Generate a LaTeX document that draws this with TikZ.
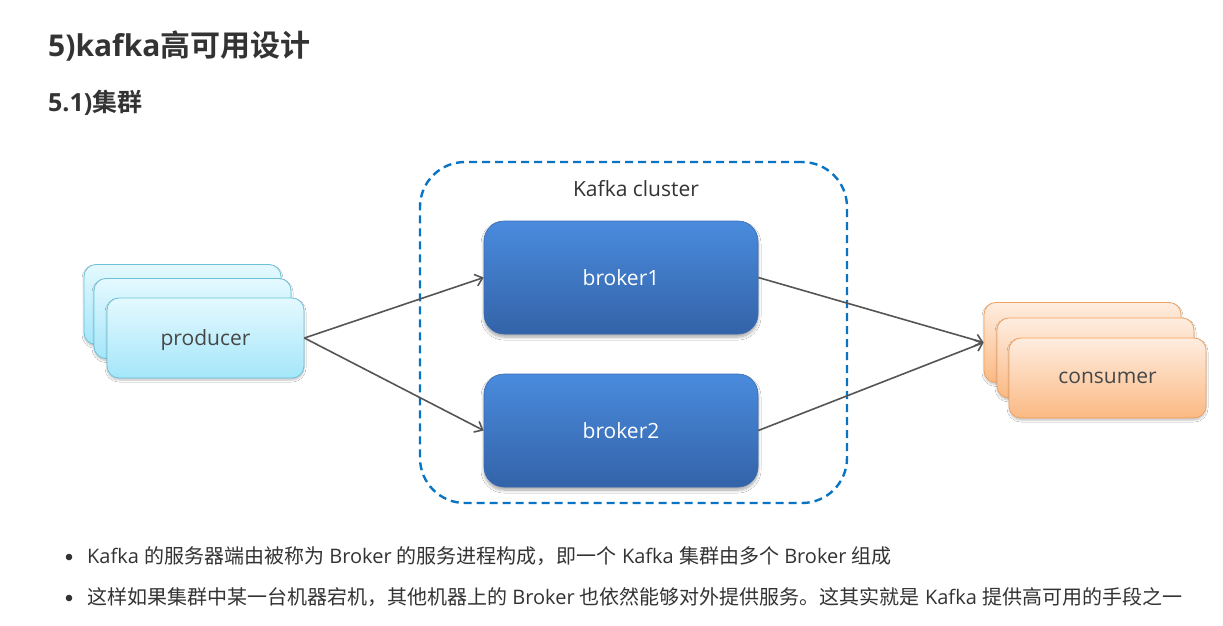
\documentclass[tikz,border=0pt]{standalone}
\usepackage{fontspec}
\setmainfont{Open Sans}
\newfontfamily\cjk{Noto Sans CJK SC}[BoldFont={Noto Sans CJK SC Bold}]
\usetikzlibrary{arrows.meta,shadows.blur}
\newcommand\zh[1]{{\cjk #1}}
\definecolor{txt}{HTML}{333333}
\definecolor{clusterblue}{HTML}{0A74C4}
\definecolor{brtop}{HTML}{4A8BDD}
\definecolor{brbot}{HTML}{3363A8}
\definecolor{brline}{HTML}{3A6CB5}
\definecolor{prtop}{HTML}{E4F9FE}
\definecolor{prbot}{HTML}{A4E6FA}
\definecolor{prline}{HTML}{6CC2D8}
\definecolor{cotop}{HTML}{FEEDE0}
\definecolor{cobot}{HTML}{FBB983}
\definecolor{coline}{HTML}{F2A260}
\definecolor{arrowgray}{HTML}{555555}
\tikzset{
  lbl/.style={font=\fontsize{21}{25}\selectfont},
  softshadow/.style={blur shadow={shadow blur steps=6, shadow xshift=0pt, shadow yshift=-2pt, shadow opacity=25, shadow blur radius=2pt}},
  prodbox/.style={draw=prline, line width=0.8pt, rounded corners=12pt, top color=prtop, bottom color=prbot,
    minimum width=197pt, minimum height=80pt, inner sep=0pt, lbl, text=txt!90, text depth=1pt, softshadow},
  consbox/.style={draw=coline, line width=0.8pt, rounded corners=12pt, top color=cotop, bottom color=cobot,
    minimum width=197pt, minimum height=80pt, inner sep=0pt, lbl, text=txt!90, text depth=1pt, softshadow},
  brokerbox/.style={draw=brline, line width=0.6pt, rounded corners=20pt, top color=brtop, bottom color=brbot,
    minimum width=274pt, minimum height=113pt, inner sep=0pt, lbl, text=white,
    blur shadow={shadow blur steps=8, shadow xshift=0pt, shadow yshift=-3pt, shadow opacity=35, shadow blur radius=3pt}},
  clusterbox/.style={draw=clusterblue, line width=2.4pt, dash pattern=on 8pt off 5pt, rounded corners=45pt,
    minimum width=427pt, minimum height=341pt, inner sep=0pt},
  arr/.style={draw=arrowgray, line width=1.6pt, -{Straight Barb[length=7pt,width=12pt]}},
  bodytext/.style={anchor=base west, inner sep=0pt, text=txt, font=\fontsize{20}{24}\selectfont},
}
\begin{document}
\begin{tikzpicture}[x=1pt,y=-1pt]
\useasboundingbox[fill=white] (0,0) rectangle (1223,625);

% headings
\node[anchor=base west, inner sep=0pt, text=txt, font=\fontsize{30}{36}\selectfont\bfseries] (title) at (48,56)
  {5)kafka\zh{高可用设计}};
\node[anchor=base west, inner sep=0pt, text=txt, font=\fontsize{25}{30}\selectfont\bfseries] (subtitle) at (48,111)
  {5.1)\zh{集群}};

% cluster
\node[clusterbox] (cluster) at (633.5,332.5) {};
\node[anchor=base, inner sep=0pt, lbl, text=txt] (clusterlabel) at (636,196) {Kafka cluster};

% producers
\node[prodbox] (pb) at (182.5,304.5) {};
\node[prodbox] (pm) at (192.5,318.5) {};
\node[prodbox] (pf) at (205.5,338) {producer};

% consumers
\node[consbox] (cb) at (1082.5,342.5) {};
\node[consbox] (cm) at (1095.5,358) {};
\node[consbox] (cf) at (1107.5,378) {consumer};

% brokers
\node[brokerbox] (b1) at (621,277.5) {broker1};
\node[brokerbox] (b2) at (621,430.5) {broker2};

% connectors
\draw[arr] (pf.east) -- (b1.west);
\draw[arr] (pf.east) -- (b2.west);
\draw[arr] (b1.east) -- (cb.west);
\draw[arr] (b2.east) -- (cb.west);

% bullets
\fill[txt] (69,557) circle (3.3);
\fill[txt] (69,598) circle (3.3);
\node[bodytext] (l1) at (87,563)
  {Kafka \zh{的服务器端由被称为} Broker \zh{的服务进程构成，即一个} Kafka \zh{集群由多个} Broker \zh{组成}};
\node[bodytext] (l2) at (87,604)
  {\zh{这样如果集群中某一台机器宕机，其他机器上的} Broker \zh{也依然能够对外提供服务。这其实就是} Kafka \zh{提供高可用的手段之一}};
\end{tikzpicture}
\end{document}
